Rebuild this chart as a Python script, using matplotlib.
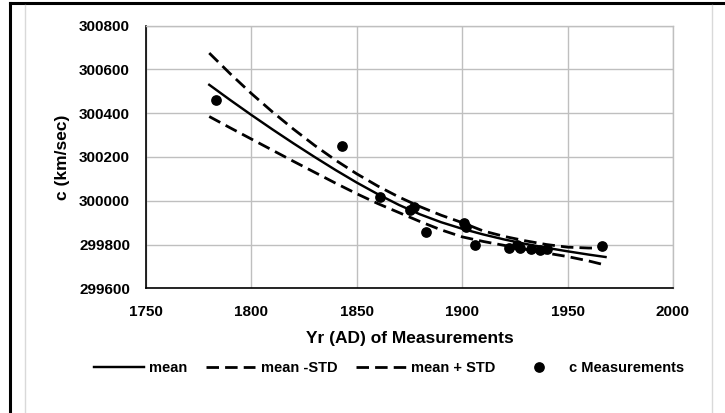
import matplotlib
matplotlib.use("Agg")
import matplotlib.pyplot as plt
from matplotlib.lines import Line2D

# fitted curves
curve_years = [1780, 1790, 1800, 1810, 1820, 1830, 1840, 1850, 1860, 1870,
               1880, 1890, 1900, 1910, 1920, 1930, 1940, 1950, 1960, 1968]
mean_c = [300530, 300460, 300392, 300326, 300262, 300200, 300140, 300083, 300030, 299981,
          299938, 299902, 299872, 299846, 299823, 299803, 299785, 299769, 299754, 299743]
lower_c = [300385, 300333, 300282, 300231, 300180, 300130, 300080, 300032, 299987, 299946,
           299905, 299867, 299835, 299814, 299796, 299778, 299761, 299745, 299725, 299706]
upper_c = [300675, 300580, 300490, 300406, 300327, 300253, 300185, 300123, 300067, 300017,
           299973, 299934, 299900, 299862, 299837, 299817, 299800, 299788, 299784, 299784]

# measurements
meas_years = [1783, 1843, 1861, 1875, 1877, 1883, 1901, 1902, 1906, 1922,
              1926, 1927.5, 1932.5, 1937, 1940, 1966.5]
meas_c = [300461, 300251, 300016, 299958, 299973, 299857, 299900, 299882, 299799, 299784,
          299799, 299784, 299779, 299773, 299779, 299794]

x_ticks = [1750, 1800, 1850, 1900, 1950, 2000]
y_ticks = [299600, 299800, 300000, 300200, 300400, 300600, 300800]

plt.rcParams["font.family"] = ["Liberation Sans", "DejaVu Sans"]
plt.rcParams["font.weight"] = "bold"

W, H = 725, 413
fig = plt.figure(figsize=(W / 100, H / 100), dpi=100)
ax = fig.add_axes([146 / W, 1 - 288.3 / H, (673 - 146) / W, (288.3 - 25.7) / H])

grid_col = "#BFBFBF"
dash = (4.5, 2.2)
ax.plot(curve_years, mean_c, color="black", lw=1.75, label="mean", zorder=3)
ax.plot(curve_years, lower_c, color="black", lw=2.0, dashes=dash, label="mean -STD", zorder=3)
ax.plot(curve_years, upper_c, color="black", lw=2.0, dashes=dash, label="mean + STD", zorder=3)
ax.plot(meas_years, meas_c, "o", color="black", ms=6.7, label="c Measurements", zorder=4)

ax.set_xlim(1750, 2000)
ax.set_ylim(299600, 300800)
ax.set_xticks(x_ticks)
ax.set_yticks(y_ticks)
ax.grid(True, color=grid_col, lw=1.0, zorder=0)
ax.set_axisbelow(True)
ax.tick_params(length=0, labelsize=11)
ax.tick_params(axis="y", pad=11.5)
ax.tick_params(axis="x", pad=12)
for lab in ax.get_xticklabels() + ax.get_yticklabels():
    lab.set_fontweight("bold")
ax.spines["left"].set_color("black")
ax.spines["bottom"].set_color("black")
ax.spines["left"].set_linewidth(1.2)
ax.spines["bottom"].set_linewidth(1.2)
ax.spines["top"].set_color(grid_col)
ax.spines["right"].set_color(grid_col)
ax.spines["top"].set_linewidth(1.0)
ax.spines["right"].set_linewidth(1.0)

ax.set_xlabel("Yr (AD) of Measurements", fontsize=12.5, fontweight="bold")
ax.set_ylabel("c (km/sec)", fontsize=12.5, fontweight="bold")
ax.xaxis.set_label_coords(0.5, -(338 - 288.3) / (288.3 - 25.7), transform=ax.transAxes)
ax.xaxis.label.set_va("center")
ax.yaxis.set_label_coords(-(146 - 63) / (673 - 146), 0.5, transform=ax.transAxes)
ax.yaxis.label.set_va("center")

leg = fig.legend(loc="center", bbox_to_anchor=(389 / W, 1 - 368 / H), ncol=4,
                 frameon=False, handlelength=3.4, handletextpad=0.35,
                 columnspacing=1.3, prop={"weight": "bold", "size": 10.5})

# outer frame pieces of the original screenshot
fig.add_artist(Line2D([10 / W, 10 / W], [0, 1 - 3 / H], color="black", lw=2.2))
fig.add_artist(Line2D([10 / W, 1], [1 - 3 / H, 1 - 3 / H], color="black", lw=2.2))
fig.add_artist(Line2D([25 / W, 25 / W], [0, 1 - 5 / H], color="#D9D9D9", lw=1.0))
fig.add_artist(Line2D([712 / W, 712 / W], [0, 1 - 5 / H], color="#D9D9D9", lw=1.0))

fig.savefig("out.png", dpi=100, facecolor="white")
